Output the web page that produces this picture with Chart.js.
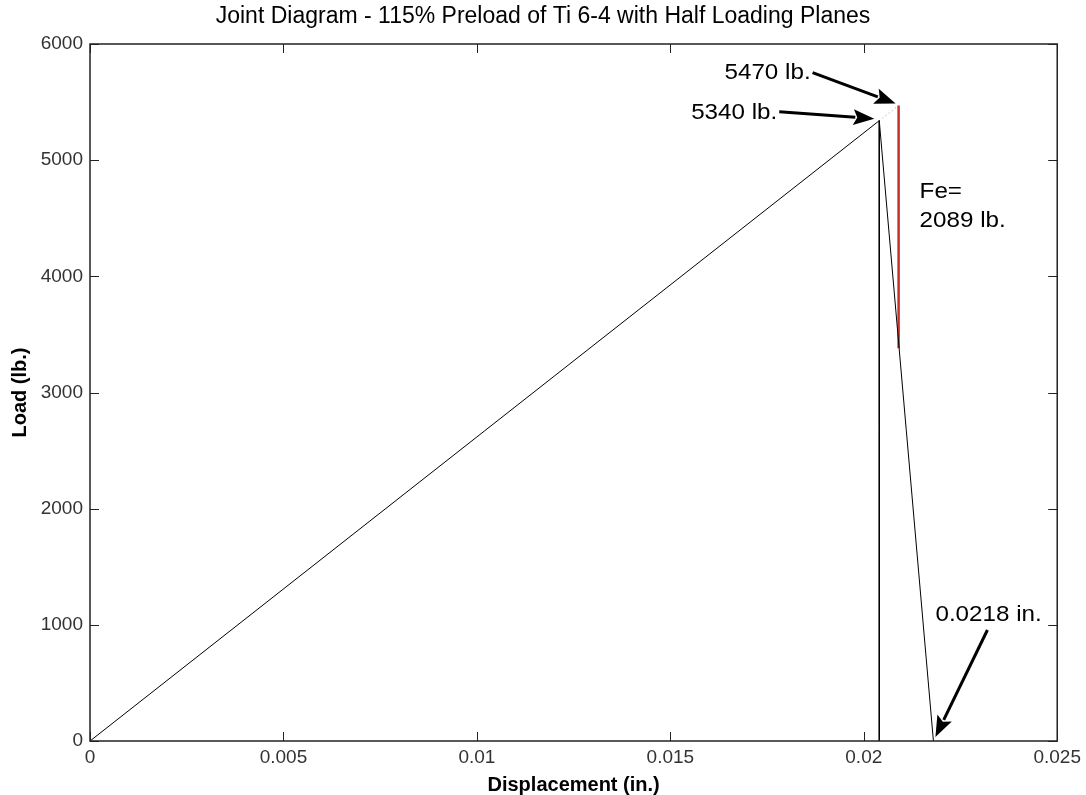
<!DOCTYPE html>
<html lang="en">
<head>
<meta charset="UTF-8" />
<title>Joint Diagram</title>
<script src="https://cdn.jsdelivr.net/npm/chart.js@4.4.1/dist/chart.umd.min.js"></script>
<style>
  body { margin: 0; background: #fff; }
</style>
</head>
<body>
<canvas id="jointChart" width="1086" height="795"></canvas>
<script>
// loading line of the joint, from zero up to the preload peak
const loadX = [0, 0.0204];
const loadY = [0, 5340];
// straight drop at the peak displacement
const dropX = [0.0204, 0.0204];
const dropY = [5340, 0];
// member unloading line down to zero load
const jointX = [0.0204, 0.0218];
const jointY = [5340, 0];
// external load (red), 5470 lb. down by Fe = 2089 lb.
const feX = [0.0209, 0.0209];
const feY = [5470, 5470 - 2089];
// dotted link from the peak to the top of the red line
const linkX = [0.0204, 0.0209];
const linkY = [5340, 5470];

const xTicks = [0, 0.005, 0.01, 0.015, 0.02, 0.025];
const xTickLabels = ["0", "0.005", "0.01", "0.015", "0.02", "0.025"];
const yTicks = [0, 1000, 2000, 3000, 4000, 5000, 6000];
const yTickLabels = ["0", "1000", "2000", "3000", "4000", "5000", "6000"];

const FONT = 'Arial, "Liberation Sans", sans-serif';

function pts(xs, ys) {
  return xs.map((x, i) => ({ x: x, y: ys[i] }));
}

function line(xs, ys, color, width, dash) {
  return {
    data: pts(xs, ys),
    showLine: true,
    borderColor: color,
    borderWidth: width,
    borderDash: dash || [],
    pointRadius: 0,
    pointHoverRadius: 0,
    fill: false,
  };
}

// slightly wide text, like the old figure export
function label(ctx, text, x, y, align) {
  ctx.save();
  ctx.translate(x, y);
  ctx.scale(1.1, 1);
  ctx.textAlign = align;
  ctx.textBaseline = "middle";
  ctx.fillText(text, 0, 0);
  ctx.restore();
}

function arrow(ctx, x1, y1, x2, y2) {
  const a = Math.atan2(y2 - y1, x2 - x1);
  const len = 21, half = 8;
  const bx = x2 - len * Math.cos(a), by = y2 - len * Math.sin(a);
  ctx.beginPath();
  ctx.moveTo(x1, y1);
  ctx.lineTo(bx + 2 * Math.cos(a), by + 2 * Math.sin(a));
  ctx.lineWidth = 3;
  ctx.strokeStyle = "#000";
  ctx.stroke();
  ctx.beginPath();
  ctx.moveTo(x2, y2);
  ctx.lineTo(bx - half * Math.sin(a), by + half * Math.cos(a));
  ctx.lineTo(bx + 4 * Math.cos(a), by + 4 * Math.sin(a));
  ctx.lineTo(bx + half * Math.sin(a), by - half * Math.cos(a));
  ctx.closePath();
  ctx.fillStyle = "#000";
  ctx.fill();
}

// box round the plot with inward ticks on all four sides
const framePlugin = {
  id: "frame",
  afterDatasetsDraw(chart) {
    const { ctx, chartArea: a, scales: { x, y } } = chart;
    const tl = 9;
    ctx.save();
    ctx.strokeStyle = "#222";
    ctx.lineWidth = 1;
    ctx.beginPath();
    xTicks.forEach((v) => {
      const px = Math.round(x.getPixelForValue(v)) + 0.5;
      ctx.moveTo(px, a.bottom);
      ctx.lineTo(px, a.bottom - tl);
      ctx.moveTo(px, a.top);
      ctx.lineTo(px, a.top + tl);
    });
    yTicks.forEach((v) => {
      const py = Math.round(y.getPixelForValue(v)) + 0.5;
      ctx.moveTo(a.left, py);
      ctx.lineTo(a.left + tl, py);
      ctx.moveTo(a.right, py);
      ctx.lineTo(a.right - tl, py);
    });
    ctx.stroke();
    ctx.lineWidth = 1.5;
    ctx.strokeRect(a.left, a.top, a.right - a.left, a.bottom - a.top);
    ctx.restore();
  },
};

// value callouts with arrows
const notePlugin = {
  id: "notes",
  afterDraw(chart) {
    const { ctx, scales: { x, y } } = chart;
    const top = { x: x.getPixelForValue(feX[0]), y: y.getPixelForValue(feY[0]) };
    const peak = { x: x.getPixelForValue(loadX[1]), y: y.getPixelForValue(loadY[1]) };
    const zero = { x: x.getPixelForValue(jointX[1]), y: y.getPixelForValue(jointY[1]) };
    ctx.save();
    ctx.fillStyle = "#000";
    ctx.font = "22px " + FONT;
    label(ctx, feY[0] + " lb.", top.x - 88, top.y - 33, "right");
    arrow(ctx, top.x - 86, top.y - 33, top.x - 3, top.y - 2);
    label(ctx, loadY[1] + " lb.", peak.x - 102, peak.y - 8, "right");
    arrow(ctx, peak.x - 100, peak.y - 9, peak.x - 5, peak.y - 2);
    ctx.fillStyle = "#000";
    label(ctx, "Fe=", top.x + 21, top.y + 86, "left");
    label(ctx, (feY[0] - feY[1]) + " lb.", top.x + 21, top.y + 115, "left");
    label(ctx, jointX[1] + " in.", zero.x + 2, zero.y - 126, "left");
    arrow(ctx, zero.x + 54, zero.y - 111, zero.x + 2, zero.y - 4);
    ctx.restore();
  },
};

new Chart(document.getElementById("jointChart"), {
  type: "scatter",
  data: {
    datasets: [
      line(loadX, loadY, "#000", 1),
      line(dropX, dropY, "#000", 1),
      line(jointX, jointY, "#000", 1),
      line(linkX, linkY, "#999", 1, [1, 3]),
      line(feX, feY, "#c9302c", 2.5),
    ],
  },
  options: {
    responsive: false,
    animation: false,
    layout: { padding: 0 },
    plugins: {
      legend: { display: false },
      tooltip: { enabled: false },
      title: {
        display: true,
        text: "Joint Diagram - 115% Preload of Ti 6-4 with Half Loading Planes",
        color: "#000",
        font: { family: FONT, size: 23, weight: "normal" },
        padding: { top: 3, bottom: 13.4 },
      },
    },
    scales: {
      x: {
        type: "linear",
        min: 0,
        max: 0.025,
        afterBuildTicks: (s) => { s.ticks = xTicks.map((v) => ({ value: v })); },
        afterFit: (s) => { s.height = 54; },
        ticks: {
          callback: (v, i) => xTickLabels[i],
          color: "#333",
          font: { family: FONT, size: 19 },
          padding: 5,
          maxRotation: 0,
          autoSkip: false,
        },
        grid: { display: false, drawTicks: false },
        border: { display: false },
        title: {
          display: true,
          text: "Displacement (in.)",
          color: "#000",
          font: { family: FONT, size: 20, weight: "bold", lineHeight: 1 },
          padding: 0,
        },
      },
      y: {
        type: "linear",
        min: 0,
        max: 6000,
        afterBuildTicks: (s) => { s.ticks = yTicks.map((v) => ({ value: v })); },
        afterFit: (s) => { s.width = 90; },
        ticks: {
          callback: (v, i) => yTickLabels[i],
          color: "#333",
          font: { family: FONT, size: 19 },
          padding: 7,
          autoSkip: false,
        },
        grid: { display: false, drawTicks: false },
        border: { display: false },
        title: {
          display: true,
          text: "Load (lb.)",
          color: "#000",
          font: { family: FONT, size: 20, weight: "bold" },
          padding: { top: 8, bottom: 0 },
        },
      },
      // empty margin on the right of the frame
      yRight: {
        type: "linear",
        position: "right",
        min: 0,
        max: 6000,
        afterFit: (s) => { s.width = 28; },
        ticks: { display: false },
        grid: { display: false, drawTicks: false },
        border: { display: false },
      },
    },
  },
  plugins: [framePlugin, notePlugin],
});
</script>
</body>
</html>
